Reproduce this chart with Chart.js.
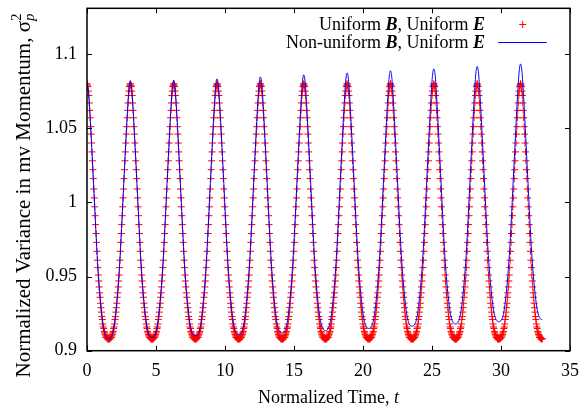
<!DOCTYPE html>
<html><head><meta charset="utf-8">
<script src="https://cdn.jsdelivr.net/npm/chart.js@4.4.1/dist/chart.umd.min.js"></script>
<style>html,body{margin:0;padding:0;background:#fff;}canvas{display:block;}</style>
</head><body>
<canvas id="c" width="583" height="410" style="width:583px;height:410px"></canvas>
<script>
// ---------- data ----------
const X_TICKS = [0, 5, 10, 15, 20, 25, 30, 35];
const X_TICK_LABELS = ['0', '5', '10', '15', '20', '25', '30', '35'];
const Y_TICKS = [0.9, 0.95, 1, 1.05, 1.1];
const Y_TICK_LABELS = ['0.9', '0.95', '1', '1.05', '1.1'];
const UNIFORM_T_STEP = 0.0327249;     // time between "+" samples
const NONUNIFORM_T_STEP = 0.0981748;  // time between line samples

// Uniform B, Uniform E (red "+")
const uniformValues = [
1.080,1.079,1.078,1.075,1.072,1.067,1.062,1.057,1.051,1.046,1.040,1.034,1.028,1.022,1.016,1.009,1.003,0.997,0.991,0.985,0.979,0.973,0.967,0.961,0.956,0.951,0.947,0.943,0.939,0.936,0.932,0.929,0.926,0.923,0.921,0.918,0.916,0.915,0.913,0.912,0.911,0.910,0.909,0.909,0.909,0.908,0.908,0.908,0.908,0.908,0.908,0.908,0.909,0.909,0.909,0.910,0.911,0.912,0.913,0.915,0.916,0.918,0.921,0.923,0.926,0.929,0.932,0.936,0.939,0.943,0.947,0.951,0.956,0.961,0.967,0.973,0.979,0.985,0.991,0.997,1.003,1.009,1.016,1.022,1.028,1.034,1.040,1.046,1.051,1.057,1.062,1.067,1.072,1.075,1.078,1.079,
1.080,1.079,1.078,1.075,1.072,1.067,1.062,1.057,1.051,1.046,1.040,1.034,1.028,1.022,1.016,1.009,1.003,0.997,0.991,0.985,0.979,0.973,0.967,0.961,0.956,0.951,0.947,0.943,0.939,0.936,0.932,0.929,0.926,0.923,0.921,0.918,0.916,0.915,0.913,0.912,0.911,0.910,0.909,0.909,0.909,0.908,0.908,0.908,0.908,0.908,0.908,0.908,0.909,0.909,0.909,0.910,0.911,0.912,0.913,0.915,0.916,0.918,0.921,0.923,0.926,0.929,0.932,0.936,0.939,0.943,0.947,0.951,0.956,0.961,0.967,0.973,0.979,0.985,0.991,0.997,1.003,1.009,1.016,1.022,1.028,1.034,1.040,1.046,1.051,1.057,1.062,1.067,1.072,1.075,1.078,1.079,
1.080,1.079,1.078,1.075,1.072,1.067,1.062,1.057,1.051,1.046,1.040,1.034,1.028,1.022,1.016,1.009,1.003,0.997,0.991,0.985,0.979,0.973,0.967,0.961,0.956,0.951,0.947,0.943,0.939,0.936,0.932,0.929,0.926,0.923,0.921,0.918,0.916,0.915,0.913,0.912,0.911,0.910,0.909,0.909,0.909,0.908,0.908,0.908,0.908,0.908,0.908,0.908,0.909,0.909,0.909,0.910,0.911,0.912,0.913,0.915,0.916,0.918,0.921,0.923,0.926,0.929,0.932,0.936,0.939,0.943,0.947,0.951,0.956,0.961,0.967,0.973,0.979,0.985,0.991,0.997,1.003,1.009,1.016,1.022,1.028,1.034,1.040,1.046,1.051,1.057,1.062,1.067,1.072,1.075,1.078,1.079,
1.080,1.079,1.078,1.075,1.072,1.067,1.062,1.057,1.051,1.046,1.040,1.034,1.028,1.022,1.016,1.009,1.003,0.997,0.991,0.985,0.979,0.973,0.967,0.961,0.956,0.951,0.947,0.943,0.939,0.936,0.932,0.929,0.926,0.923,0.921,0.918,0.916,0.915,0.913,0.912,0.911,0.910,0.909,0.909,0.909,0.908,0.908,0.908,0.908,0.908,0.908,0.908,0.909,0.909,0.909,0.910,0.911,0.912,0.913,0.915,0.916,0.918,0.921,0.923,0.926,0.929,0.932,0.936,0.939,0.943,0.947,0.951,0.956,0.961,0.967,0.973,0.979,0.985,0.991,0.997,1.003,1.009,1.016,1.022,1.028,1.034,1.040,1.046,1.051,1.057,1.062,1.067,1.072,1.075,1.078,1.079,
1.080,1.079,1.078,1.075,1.072,1.067,1.062,1.057,1.051,1.046,1.040,1.034,1.028,1.022,1.016,1.009,1.003,0.997,0.991,0.985,0.979,0.973,0.967,0.961,0.956,0.951,0.947,0.943,0.939,0.936,0.932,0.929,0.926,0.923,0.921,0.918,0.916,0.915,0.913,0.912,0.911,0.910,0.909,0.909,0.909,0.908,0.908,0.908,0.908,0.908,0.908,0.908,0.909,0.909,0.909,0.910,0.911,0.912,0.913,0.915,0.916,0.918,0.921,0.923,0.926,0.929,0.932,0.936,0.939,0.943,0.947,0.951,0.956,0.961,0.967,0.973,0.979,0.985,0.991,0.997,1.003,1.009,1.016,1.022,1.028,1.034,1.040,1.046,1.051,1.057,1.062,1.067,1.072,1.075,1.078,1.079,
1.080,1.079,1.078,1.075,1.072,1.067,1.062,1.057,1.051,1.046,1.040,1.034,1.028,1.022,1.016,1.009,1.003,0.997,0.991,0.985,0.979,0.973,0.967,0.961,0.956,0.951,0.947,0.943,0.939,0.936,0.932,0.929,0.926,0.923,0.921,0.918,0.916,0.915,0.913,0.912,0.911,0.910,0.909,0.909,0.909,0.908,0.908,0.908,0.908,0.908,0.908,0.908,0.909,0.909,0.909,0.910,0.911,0.912,0.913,0.915,0.916,0.918,0.921,0.923,0.926,0.929,0.932,0.936,0.939,0.943,0.947,0.951,0.956,0.961,0.967,0.973,0.979,0.985,0.991,0.997,1.003,1.009,1.016,1.022,1.028,1.034,1.040,1.046,1.051,1.057,1.062,1.067,1.072,1.075,1.078,1.079,
1.080,1.079,1.078,1.075,1.072,1.067,1.062,1.057,1.051,1.046,1.040,1.034,1.028,1.022,1.016,1.009,1.003,0.997,0.991,0.985,0.979,0.973,0.967,0.961,0.956,0.951,0.947,0.943,0.939,0.936,0.932,0.929,0.926,0.923,0.921,0.918,0.916,0.915,0.913,0.912,0.911,0.910,0.909,0.909,0.909,0.908,0.908,0.908,0.908,0.908,0.908,0.908,0.909,0.909,0.909,0.910,0.911,0.912,0.913,0.915,0.916,0.918,0.921,0.923,0.926,0.929,0.932,0.936,0.939,0.943,0.947,0.951,0.956,0.961,0.967,0.973,0.979,0.985,0.991,0.997,1.003,1.009,1.016,1.022,1.028,1.034,1.040,1.046,1.051,1.057,1.062,1.067,1.072,1.075,1.078,1.079,
1.080,1.079,1.078,1.075,1.072,1.067,1.062,1.057,1.051,1.046,1.040,1.034,1.028,1.022,1.016,1.009,1.003,0.997,0.991,0.985,0.979,0.973,0.967,0.961,0.956,0.951,0.947,0.943,0.939,0.936,0.932,0.929,0.926,0.923,0.921,0.918,0.916,0.915,0.913,0.912,0.911,0.910,0.909,0.909,0.909,0.908,0.908,0.908,0.908,0.908,0.908,0.908,0.909,0.909,0.909,0.910,0.911,0.912,0.913,0.915,0.916,0.918,0.921,0.923,0.926,0.929,0.932,0.936,0.939,0.943,0.947,0.951,0.956,0.961,0.967,0.973,0.979,0.985,0.991,0.997,1.003,1.009,1.016,1.022,1.028,1.034,1.040,1.046,1.051,1.057,1.062,1.067,1.072,1.075,1.078,1.079,
1.080,1.079,1.078,1.075,1.072,1.067,1.062,1.057,1.051,1.046,1.040,1.034,1.028,1.022,1.016,1.009,1.003,0.997,0.991,0.985,0.979,0.973,0.967,0.961,0.956,0.951,0.947,0.943,0.939,0.936,0.932,0.929,0.926,0.923,0.921,0.918,0.916,0.915,0.913,0.912,0.911,0.910,0.909,0.909,0.909,0.908,0.908,0.908,0.908,0.908,0.908,0.908,0.909,0.909,0.909,0.910,0.911,0.912,0.913,0.915,0.916,0.918,0.921,0.923,0.926,0.929,0.932,0.936,0.939,0.943,0.947,0.951,0.956,0.961,0.967,0.973,0.979,0.985,0.991,0.997,1.003,1.009,1.016,1.022,1.028,1.034,1.040,1.046,1.051,1.057,1.062,1.067,1.072,1.075,1.078,1.079,
1.080,1.079,1.078,1.075,1.072,1.067,1.062,1.057,1.051,1.046,1.040,1.034,1.028,1.022,1.016,1.009,1.003,0.997,0.991,0.985,0.979,0.973,0.967,0.961,0.956,0.951,0.947,0.943,0.939,0.936,0.932,0.929,0.926,0.923,0.921,0.918,0.916,0.915,0.913,0.912,0.911,0.910,0.909,0.909,0.909,0.908,0.908,0.908,0.908,0.908,0.908,0.908,0.909,0.909,0.909,0.910,0.911,0.912,0.913,0.915,0.916,0.918,0.921,0.923,0.926,0.929,0.932,0.936,0.939,0.943,0.947,0.951,0.956,0.961,0.967,0.973,0.979,0.985,0.991,0.997,1.003,1.009,1.016,1.022,1.028,1.034,1.040,1.046,1.051,1.057,1.062,1.067,1.072,1.075,1.078,1.079,
1.080,1.079,1.078,1.075,1.072,1.067,1.062,1.057,1.051,1.046,1.040,1.034,1.028,1.022,1.016,1.009,1.003,0.997,0.991,0.985,0.979,0.973,0.967,0.961,0.956,0.951,0.947,0.943,0.939,0.936,0.932,0.929,0.926,0.923,0.921,0.918,0.916,0.915,0.913,0.912,0.911,0.910,0.909,0.909,0.909,0.908,0.908,0.908,0.908
];

// Non-uniform B, Uniform E (blue line)
const nonUniformValues = [
1.0800,1.0756,1.0623,1.0458,1.0279,1.0096,0.9910,0.9727,0.9562,0.9430,0.9321,0.9232,0.9163,0.9118,0.9094,0.9083,0.9080,
0.9083,0.9094,0.9118,0.9163,0.9233,0.9323,0.9433,0.9566,0.9733,0.9917,1.0105,1.0289,1.0470,1.0636,1.0770,
1.0818,1.0766,1.0633,1.0468,1.0289,1.0106,0.9920,0.9737,0.9572,0.9440,0.9331,0.9242,0.9173,0.9128,0.9104,0.9093,0.9090,
0.9093,0.9104,0.9128,0.9173,0.9243,0.9333,0.9443,0.9576,0.9743,0.9927,1.0115,1.0299,1.0480,1.0646,1.0780,
1.0823,1.0776,1.0643,1.0478,1.0299,1.0116,0.9930,0.9747,0.9582,0.9450,0.9341,0.9252,0.9183,0.9138,0.9114,0.9103,0.9100,
0.9103,0.9114,0.9138,0.9183,0.9253,0.9343,0.9453,0.9586,0.9753,0.9937,1.0125,1.0309,1.0490,1.0656,1.0790,
1.0833,1.0786,1.0653,1.0488,1.0309,1.0126,0.9940,0.9757,0.9592,0.9460,0.9351,0.9262,0.9193,0.9148,0.9124,0.9113,0.9110,
0.9113,0.9124,0.9148,0.9193,0.9263,0.9353,0.9463,0.9596,0.9763,0.9947,1.0135,1.0319,1.0500,1.0666,1.0800,
1.0846,1.0796,1.0663,1.0498,1.0319,1.0136,0.9950,0.9767,0.9602,0.9470,0.9361,0.9272,0.9203,0.9158,0.9134,0.9123,0.9120,
0.9123,0.9134,0.9158,0.9203,0.9273,0.9363,0.9473,0.9606,0.9773,0.9957,1.0145,1.0329,1.0510,1.0676,1.0810,
1.0860,1.0811,1.0678,1.0513,1.0334,1.0151,0.9965,0.9782,0.9617,0.9485,0.9376,0.9287,0.9218,0.9173,0.9149,0.9138,0.9135,
0.9138,0.9149,0.9173,0.9218,0.9288,0.9378,0.9488,0.9621,0.9788,0.9972,1.0160,1.0344,1.0525,1.0691,1.0825,
1.0873,1.0826,1.0693,1.0528,1.0349,1.0166,0.9980,0.9797,0.9632,0.9500,0.9391,0.9302,0.9233,0.9188,0.9164,0.9153,0.9150,
0.9153,0.9164,0.9188,0.9233,0.9303,0.9393,0.9503,0.9636,0.9803,0.9987,1.0175,1.0359,1.0540,1.0706,1.0840,
1.0887,1.0841,1.0708,1.0543,1.0364,1.0181,0.9995,0.9812,0.9647,0.9515,0.9406,0.9317,0.9248,0.9203,0.9179,0.9168,0.9165,
0.9168,0.9179,0.9203,0.9248,0.9318,0.9408,0.9518,0.9651,0.9818,1.0002,1.0190,1.0374,1.0555,1.0721,1.0855,
1.0900,1.0856,1.0723,1.0558,1.0379,1.0196,1.0010,0.9827,0.9662,0.9530,0.9421,0.9332,0.9263,0.9218,0.9194,0.9183,0.9180,
0.9183,0.9194,0.9218,0.9263,0.9333,0.9423,0.9533,0.9666,0.9833,1.0017,1.0205,1.0389,1.0570,1.0736,1.0870,
1.0916,1.0871,1.0738,1.0573,1.0394,1.0211,1.0025,0.9842,0.9677,0.9545,0.9436,0.9347,0.9278,0.9233,0.9209,0.9198,0.9195,
0.9198,0.9209,0.9233,0.9278,0.9348,0.9438,0.9548,0.9681,0.9848,1.0032,1.0220,1.0404,1.0585,1.0751,1.0885,
1.0933,1.0886,1.0753,1.0588,1.0409,1.0226,1.0040,0.9857,0.9692,0.9560,0.9451,0.9362,0.9293,0.9248,0.9224,0.9213,0.9210
];

// ---------- text ----------
const SERIF = '"Liberation Serif", "Times New Roman", serif';
const F_N = '18px ' + SERIF;
const F_BI = 'italic bold 18px ' + SERIF;
const F_I = 'italic 18px ' + SERIF;
const LEGEND_UNIFORM = [{text:'Uniform ', font:F_N},{text:'B', font:F_BI},{text:', Uniform ', font:F_N},{text:'E', font:F_BI}];
const LEGEND_NONUNIFORM = [{text:'Non-uniform ', font:F_N},{text:'B', font:F_BI},{text:', Uniform ', font:F_N},{text:'E', font:F_BI}];
const X_TITLE = [{text:'Normalized Time, ', font:F_N},{text:'t', font:F_I}];
const Y_TITLE = [{text:'Normalized Variance in mv Momentum, σ', font:'21px ' + SERIF},
                 {text:'p', font:'italic 15px ' + SERIF, dy:4},
                 {text:'2', font:'15px ' + SERIF, dy:-9, overlay:true}];

const RED = '#ff0000', BLUE = '#0000ff';

function layoutRich(ctx, parts) {
  let x = 0, prevStart = 0; const items = [];
  for (const p of parts) {
    ctx.font = p.font;
    const w = ctx.measureText(p.text).width;
    let start;
    if (p.overlay) { start = prevStart; x = Math.max(x, prevStart + w); }
    else { start = x; x += w; }
    items.push({p, start}); prevStart = start;
  }
  return {items, width: x};
}
function drawRich(ctx, parts, x, y, align) {
  const {items, width} = layoutRich(ctx, parts);
  const x0 = align === 'right' ? x - width : align === 'center' ? x - width / 2 : x;
  ctx.textAlign = 'left'; ctx.textBaseline = 'alphabetic'; ctx.fillStyle = '#000';
  for (const it of items) { ctx.font = it.p.font; ctx.fillText(it.p.text, x0 + it.start, y + (it.p.dy || 0)); }
}

const decor = {
  id: 'decor',
  afterDatasetsDraw(chart) {
    const ctx = chart.ctx, a = chart.chartArea, xs = chart.scales.x, ys = chart.scales.y;
    ctx.save();
    ctx.strokeStyle = '#000'; ctx.lineWidth = 1;
    ctx.beginPath();
    for (const v of X_TICKS) {
      const px = Math.round(xs.getPixelForValue(v)) + 0.5;
      ctx.moveTo(px, a.bottom); ctx.lineTo(px, a.bottom - 5);
      ctx.moveTo(px, a.top); ctx.lineTo(px, a.top + 5);
    }
    for (const v of Y_TICKS) {
      const py = Math.round(ys.getPixelForValue(v)) + 0.5;
      ctx.moveTo(a.left, py); ctx.lineTo(a.left + 5, py);
      ctx.moveTo(a.right, py); ctx.lineTo(a.right - 5, py);
    }
    ctx.stroke();
    ctx.lineWidth = 1.5;
    ctx.strokeRect(a.left, a.top, a.right - a.left, a.bottom - a.top);

    // legend
    drawRich(ctx, LEGEND_UNIFORM, 485, 30, 'right');
    drawRich(ctx, LEGEND_NONUNIFORM, 485, 47.5, 'right');
    ctx.strokeStyle = RED; ctx.lineWidth = 1;
    ctx.beginPath();
    ctx.moveTo(519.2, 24.5); ctx.lineTo(526.2, 24.5);
    ctx.moveTo(522.7, 21); ctx.lineTo(522.7, 28);
    ctx.stroke();
    ctx.strokeStyle = BLUE;
    ctx.beginPath(); ctx.moveTo(498.3, 42.5); ctx.lineTo(546.7, 42.5); ctx.stroke();

    // axis titles
    drawRich(ctx, X_TITLE, (a.left + a.right) / 2, 402.5, 'center');
    ctx.translate(29.5, 195.5); ctx.rotate(-Math.PI / 2);
    drawRich(ctx, Y_TITLE, 0, 0, 'center');
    ctx.restore();
  }
};

new Chart(document.getElementById('c'), {
  type: 'scatter',
  data: {
    datasets: [
      {
        label: 'Non-uniform B, Uniform E',
        data: nonUniformValues.map((v, i) => ({x: i * NONUNIFORM_T_STEP, y: v})),
        showLine: true, borderColor: BLUE, borderWidth: 1, pointRadius: 0, pointHoverRadius: 0,
        cubicInterpolationMode: 'monotone', order: 0
      },
      {
        label: 'Uniform B, Uniform E',
        data: uniformValues.map((v, i) => ({x: i * UNIFORM_T_STEP, y: v})),
        showLine: false, pointStyle: 'cross', pointRadius: 3.5, pointHoverRadius: 3.5,
        pointBorderColor: RED, pointBackgroundColor: RED, pointBorderWidth: 1, order: 1
      }
    ]
  },
  options: {
    responsive: false, animation: false, devicePixelRatio: 1,
    layout: {padding: {top: 8.3, right: 13, bottom: 0, left: 0}},
    plugins: {legend: {display: false}, tooltip: {enabled: false}},
    events: [],
    scales: {
      x: {
        type: 'linear', min: 0, max: 35,
        afterBuildTicks: s => { s.ticks = X_TICKS.map(v => ({value: v})); },
        ticks: {callback: v => X_TICK_LABELS[X_TICKS.indexOf(v)], font: {family: SERIF, size: 18}, color: '#000',
                padding: 10, maxRotation: 0, minRotation: 0, autoSkip: false},
        grid: {display: false, drawTicks: false}, border: {display: false},
        afterFit: s => { s.height = 59.3; s.paddingLeft = 0; s.paddingRight = 0; }
      },
      y: {
        type: 'linear', min: 0.9, max: 1.1308,
        afterBuildTicks: s => { s.ticks = Y_TICKS.map(v => ({value: v})); },
        ticks: {callback: v => Y_TICK_LABELS[Y_TICKS.findIndex(t => Math.abs(t - v) < 1e-9)], font: {family: SERIF, size: 18},
                color: '#000', padding: 10, autoSkip: false},
        grid: {display: false, drawTicks: false}, border: {display: false},
        afterFit: s => { s.width = 87; s.paddingTop = 0; s.paddingBottom = 0; }
      }
    }
  },
  plugins: [decor]
});
</script>
</body></html>
